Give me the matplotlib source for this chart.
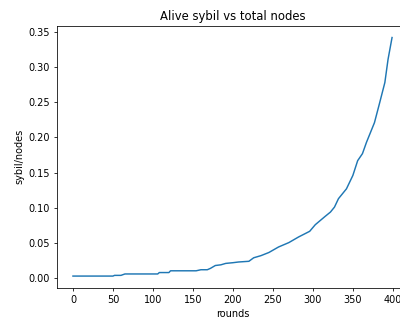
import matplotlib
matplotlib.use('Agg')
import matplotlib.pyplot as plt

# fraction of alive sybil nodes over the total, sampled at the rounds where it changes
rounds = [0, 50, 52, 60, 65, 106, 108, 120, 122, 154, 160, 168, 172, 178, 185,
          191, 200, 207, 220, 226, 235, 245, 257, 270, 282, 296, 303, 315, 322,
          327, 332, 342, 350, 356, 362, 367, 377, 383, 390, 394, 399]
sybil_ratio = [0.003, 0.003, 0.004, 0.004, 0.006, 0.006, 0.008, 0.008, 0.0105,
               0.0105, 0.012, 0.012, 0.014, 0.018, 0.019, 0.021, 0.022, 0.023,
               0.024, 0.029, 0.032, 0.0365, 0.0443, 0.0506, 0.0585, 0.0666,
               0.076, 0.0875, 0.094, 0.101, 0.113, 0.127, 0.146, 0.167, 0.177,
               0.193, 0.221, 0.247, 0.278, 0.311, 0.342]

dpi = 70
fig = plt.figure(figsize=(400 / dpi, 320 / dpi), dpi=dpi)
ax = fig.add_axes([0.1425, 0.1, 0.8775, 0.82])

ax.plot(rounds, sybil_ratio)
ax.set_title('Alive sybil vs total nodes')
ax.set_xlabel('rounds')
ax.set_ylabel('sybil/nodes')

fig.savefig('out.png', dpi=dpi)
